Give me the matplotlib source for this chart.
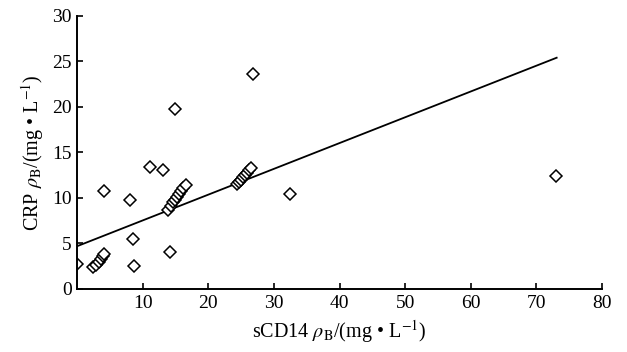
import numpy as np
import matplotlib.pyplot as plt

plt.rcParams['font.family'] = ['Liberation Serif', 'DejaVu Serif']
plt.rcParams['mathtext.fontset'] = 'stix'

# scatter data
scd14 = [0.0, 2.4, 2.9, 3.4, 3.7, 4.0, 4.1, 4.1, 8.1, 8.5, 8.7, 11.1, 13.1,
         14.2, 14.9,
         13.9, 14.3, 14.6, 14.9, 15.2, 15.5, 15.8, 16.1, 16.6,
         24.4, 24.7, 25.0, 25.3, 25.6, 25.9, 26.2, 26.5,
         26.8, 32.5, 73.0]
crp = [2.75, 2.4, 2.6, 3.0, 3.3, 3.6, 3.8, 10.8, 9.8, 5.5, 2.5, 13.4, 13.1,
       4.1, 19.8,
       8.7, 9.1, 9.5, 9.8, 10.1, 10.4, 10.8, 11.1, 11.4,
       11.5, 11.8, 12.0, 12.3, 12.5, 12.7, 13.1, 13.3,
       23.6, 10.4, 12.4]

# fitted line end points
fit_x = [0.0, 73.1]
fit_y = [4.7, 25.4]

fig = plt.figure(figsize=(6.27, 3.52), dpi=100)
ax = fig.add_axes([0.123, 0.179, 0.837, 0.776])

ax.plot(fit_x, fit_y, 'k-', lw=1.3)
ax.plot(scd14, crp, 'D', mfc='white', mec='black', mew=1.1, ms=5.8, ls='none')

ax.set_xlim(0, 80)
ax.set_ylim(0, 30)
ax.set_xticks(np.arange(10, 81, 10))
ax.set_yticks(np.arange(0, 31, 5))
ax.tick_params(direction='in', labelsize=14, length=4, width=1.2)
ax.tick_params(axis='y', pad=4)
ax.tick_params(axis='x', pad=4)
ax.spines['top'].set_visible(False)
ax.spines['right'].set_visible(False)
for s in ['left', 'bottom']:
    ax.spines[s].set_linewidth(1.4)

ax.set_xlabel(r'sCD14 $\rho_\mathrm{B}$/(mg • L$^{-1}$)', fontsize=14.5, labelpad=5)
ax.set_ylabel(r'CRP $\rho_\mathrm{B}$/(mg • L$^{-1}$)', fontsize=14.5, labelpad=4)

fig.savefig('out.png', dpi=100)
